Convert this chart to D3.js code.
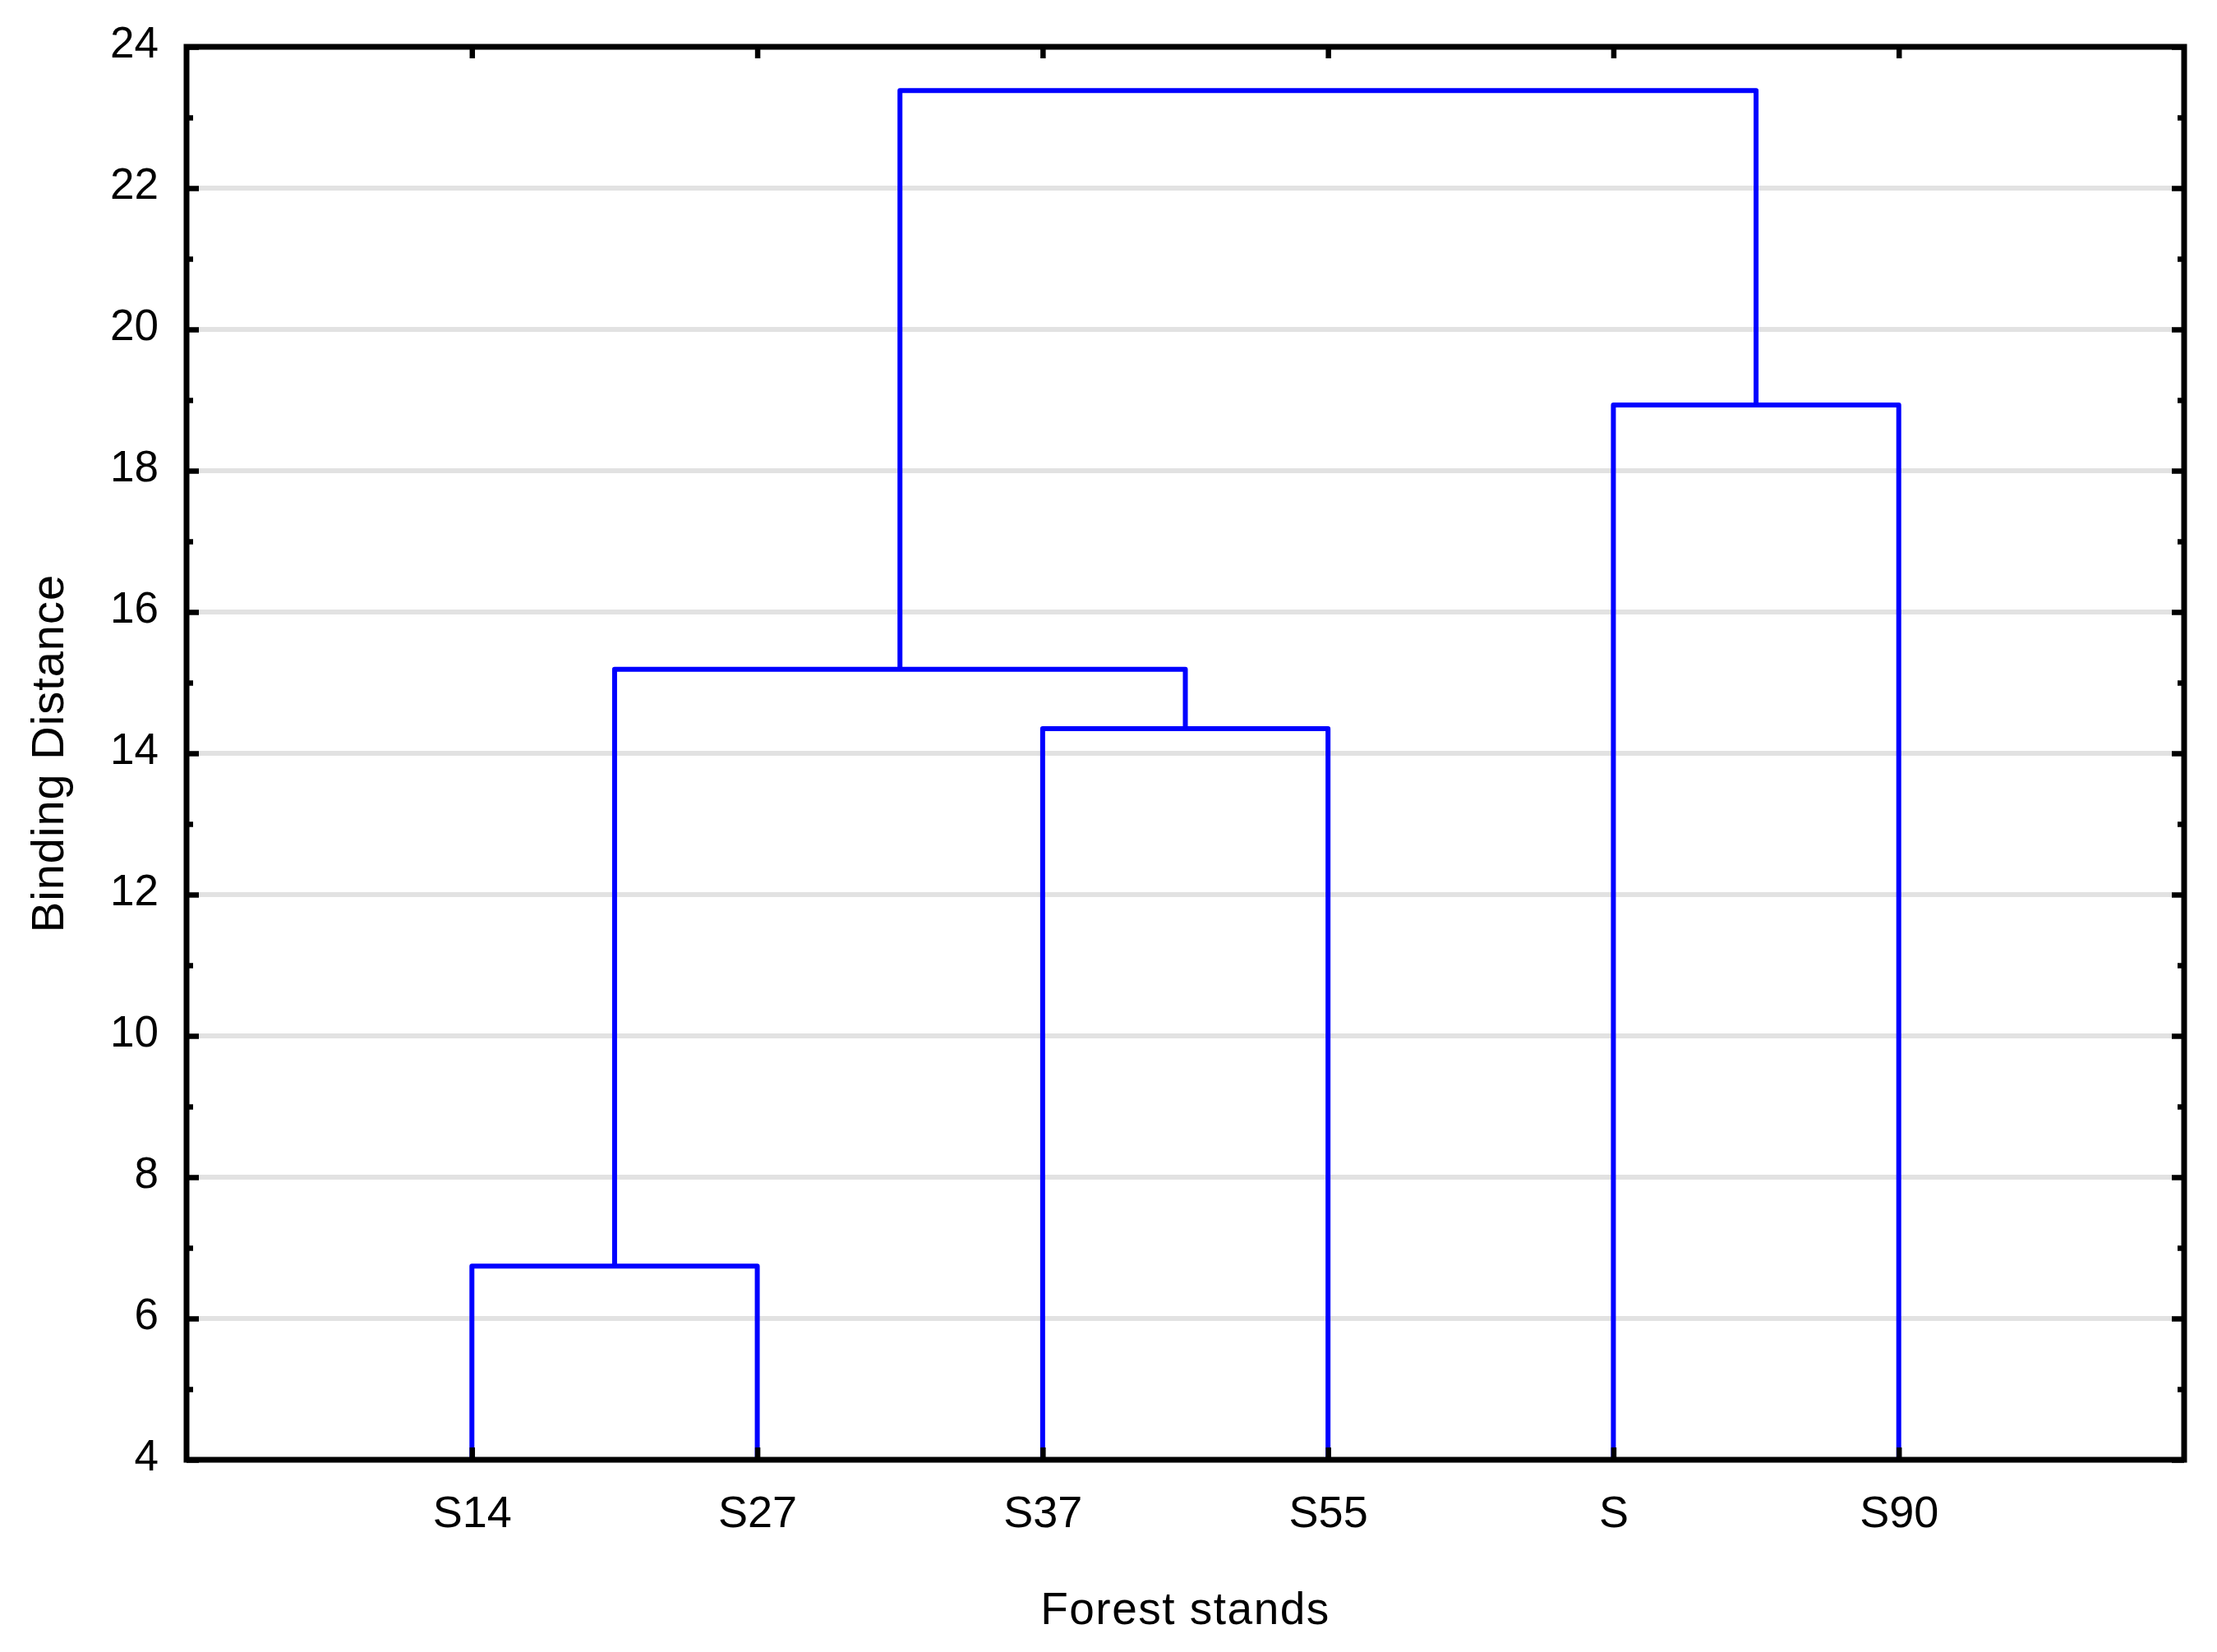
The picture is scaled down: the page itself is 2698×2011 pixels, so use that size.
<!DOCTYPE html>
<html>
<head>
<meta charset="utf-8">
<script src="https://cdn.jsdelivr.net/npm/d3@7"></script>
<style>
  html, body { margin: 0; padding: 0; background: #ffffff; }
  svg { display: block; }
</style>
</head>
<body>
<svg id="chart" width="2698" height="2011"></svg>
<script>
// ---- data ----
const leaves = ["S14", "S27", "S37", "S55", "S", "S90"];
const clusterIds = ["C1", "C2", "C3", "C4", "C5"];
const clusterLeft = ["S14", "S37", "C1", "S", "C3"];
const clusterRight = ["S27", "S55", "C2", "S90", "C4"];
const clusterHeight = [6.74, 14.35, 15.19, 18.93, 23.38];
const yTicks = [4, 6, 8, 10, 12, 14, 16, 18, 20, 22, 24];
const yMinorTicks = [5, 7, 9, 11, 13, 15, 17, 19, 21, 23];
const gridValues = [6, 8, 10, 12, 14, 16, 18, 20, 22];
const xTitle = "Forest stands";
const yTitle = "Binding Distance";

// ---- layout ----
const L = 227, R = 2658, T = 57, B = 1777;
const svg = d3.select("#chart");
const font = "'Liberation Sans', Arial, sans-serif";

const x = d3.scalePoint().domain(leaves).range([L, R]).padding(1);
const y = d3.scaleLinear().domain([4, 24]).range([B, T]);

// gridlines
svg.append("g").selectAll("line").data(gridValues).join("line")
  .attr("x1", L).attr("x2", R)
  .attr("y1", d => y(d)).attr("y2", d => y(d))
  .attr("stroke", "#e2e2e2").attr("stroke-width", 6);

// dendrogram geometry
const nodeX = {}, nodeH = {};
leaves.forEach(l => { nodeX[l] = x(l); nodeH[l] = 4; });
clusterIds.forEach((c, i) => {
  nodeX[c] = (nodeX[clusterLeft[i]] + nodeX[clusterRight[i]]) / 2;
  nodeH[c] = clusterHeight[i];
});
const links = clusterIds.map((c, i) => ({ a: clusterLeft[i], b: clusterRight[i], h: clusterHeight[i] }));

svg.append("g").selectAll("path").data(links).join("path")
  .attr("d", d => {
    const p = d3.path();
    p.moveTo(nodeX[d.a], y(nodeH[d.a]));
    p.lineTo(nodeX[d.a], y(d.h));
    p.lineTo(nodeX[d.b], y(d.h));
    p.lineTo(nodeX[d.b], y(nodeH[d.b]));
    return p.toString();
  })
  .attr("fill", "none")
  .attr("stroke", "#0000ff")
  .attr("stroke-width", 6)
  .attr("stroke-linejoin", "round");

// axes
function styleAxis(g, showText) {
  g.select(".domain").remove();
  g.selectAll(".tick line").attr("stroke", "#000").attr("stroke-width", 6.5);
  if (!showText) g.selectAll(".tick text").remove();
}

// left major
const gl = svg.append("g").attr("transform", `translate(${L},0)`)
  .call(d3.axisLeft(y).tickValues(yTicks).tickSize(-15).tickPadding(34).tickFormat(d3.format("d")));
styleAxis(gl, true);
gl.selectAll(".tick text")
  .attr("dy", null).attr("y", 12)
  .style("font-family", font).style("font-size", "53px").attr("fill", "#000");

// left minor
const glm = svg.append("g").attr("transform", `translate(${L},0)`)
  .call(d3.axisLeft(y).tickValues(yMinorTicks).tickSize(-8));
styleAxis(glm, false);

// right major/minor
const gr = svg.append("g").attr("transform", `translate(${R},0)`)
  .call(d3.axisRight(y).tickValues(yTicks).tickSize(-15));
styleAxis(gr, false);
const grm = svg.append("g").attr("transform", `translate(${R},0)`)
  .call(d3.axisRight(y).tickValues(yMinorTicks).tickSize(-8));
styleAxis(grm, false);

// bottom
const gb = svg.append("g").attr("transform", `translate(0,${B})`)
  .call(d3.axisBottom(x).tickSize(-15));
styleAxis(gb, true);
gb.selectAll(".tick text")
  .attr("dy", null).attr("y", 82)
  .style("font-family", font).style("font-size", "54px").attr("fill", "#000");

// top
const gt = svg.append("g").attr("transform", `translate(0,${T})`)
  .call(d3.axisTop(x).tickSize(-14));
styleAxis(gt, false);

// border
svg.append("rect")
  .attr("x", L).attr("y", T).attr("width", R - L).attr("height", B - T)
  .attr("fill", "none").attr("stroke", "#000").attr("stroke-width", 7);

// titles
svg.append("text")
  .attr("x", (L + R) / 2).attr("y", 1977)
  .attr("text-anchor", "middle")
  .style("font-family", font).style("font-size", "55px").style("letter-spacing", "1.5px")
  .attr("fill", "#000")
  .text(xTitle);

svg.append("text")
  .attr("transform", `translate(77,${(T + B) / 2}) rotate(-90)`)
  .attr("text-anchor", "middle")
  .style("font-family", font).style("font-size", "56px").style("letter-spacing", "1px")
  .attr("fill", "#000")
  .text(yTitle);
</script>
</body>
</html>
